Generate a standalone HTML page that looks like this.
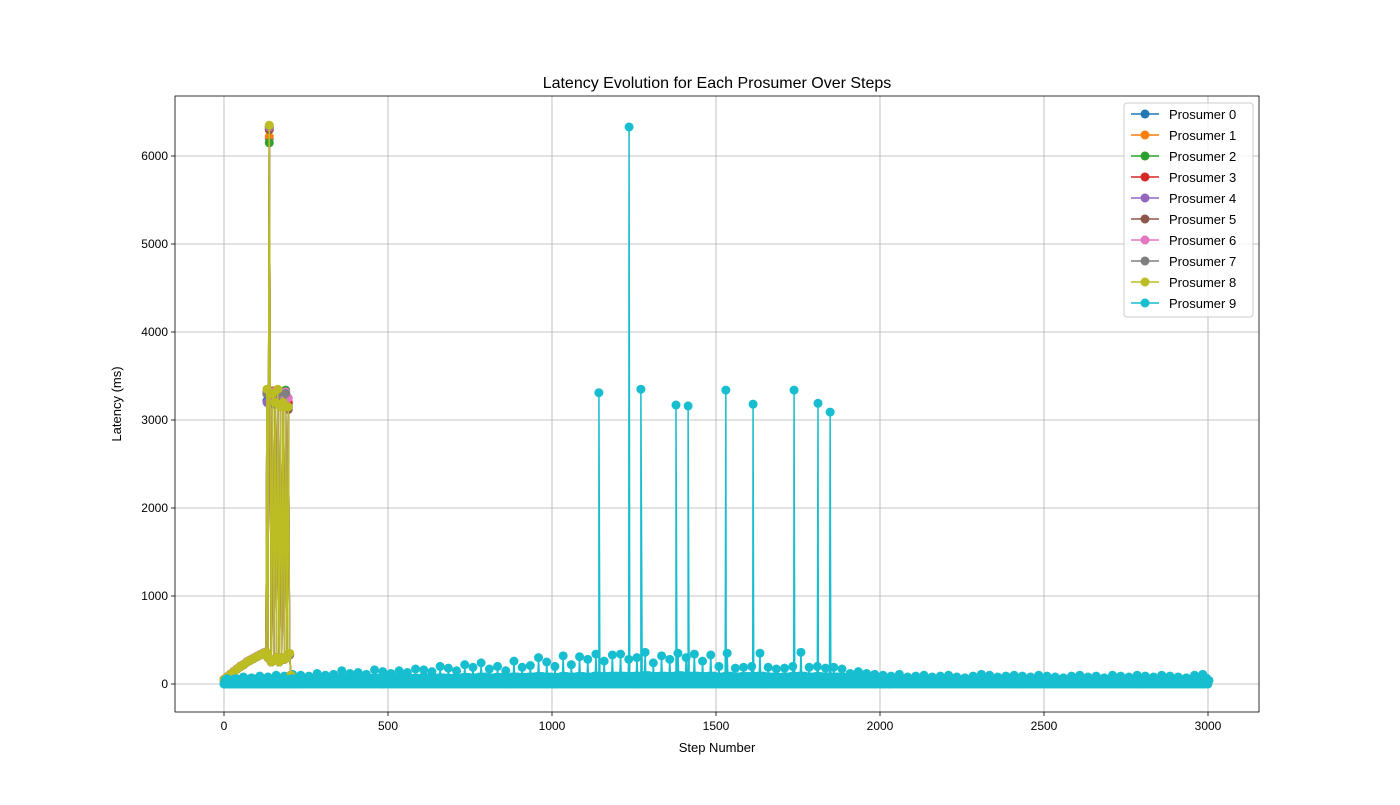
<!DOCTYPE html>
<html><head><meta charset="utf-8"><style>
body{margin:0;background:#fff;font-family:"Liberation Sans","DejaVu Sans",sans-serif}
</style></head><body>
<svg id="c" width="1400" height="800" xmlns="http://www.w3.org/2000/svg"></svg>
<script>
const xTicks=[0,500,1000,1500,2000,2500,3000];
const yTicks=[0,1000,2000,3000,4000,5000,6000];
const names=["Prosumer 0","Prosumer 1","Prosumer 2","Prosumer 3","Prosumer 4","Prosumer 5","Prosumer 6","Prosumer 7","Prosumer 8","Prosumer 9"];
const colors=["#1f77b4","#ff7f0e","#2ca02c","#d62728","#9467bd","#8c564b","#e377c2","#7f7f7f","#bcbd22","#17becf"];
const earlySteps=[0,10,20,30,40,50,60,70,80,90,100,110,120,128,131,134,138,141,144,148,152,156,160,164,168,172,176,180,184,188,192,196,200,204];
const p0=[50,80,110,140,170,200,220,250,270,290,310,330,350,360,3220,300,6200,3200,250,3300,280,3180,300,3300,250,3200,300,3250,280,3300,300,3150,330,100];
const p1=[52,82,112,142,172,202,222,252,272,292,312,332,352,362,3300,300,6220,3250,250,3320,280,3200,300,3320,250,3200,300,3220,280,3320,300,3200,340,100];
const p2=[48,78,108,138,168,198,218,248,268,288,308,328,348,358,3300,300,6150,3280,250,3300,280,3200,300,3300,250,3250,300,3200,280,3340,300,3180,340,100];
const p3=[50,80,110,140,170,200,220,250,270,290,310,330,350,360,3320,300,6300,3250,250,3330,280,3210,300,3300,250,3200,300,3230,280,3300,300,3200,330,100];
const p4=[50,80,110,140,170,200,220,250,270,290,310,330,350,360,3200,300,6320,3180,250,3300,280,3200,300,3300,250,3170,300,3200,280,3290,300,3150,330,100];
const p5=[50,80,110,140,170,200,220,250,270,290,310,330,350,360,3300,300,6300,3300,250,3300,280,3200,300,3300,250,3200,300,3200,280,3300,300,3120,330,100];
const p6=[55,85,115,145,175,205,225,255,275,295,315,335,355,365,3300,300,6330,3300,250,3320,280,3220,300,3330,250,3300,300,3270,280,3320,300,3250,340,100];
const p7=[50,80,110,140,170,200,220,250,270,290,310,330,350,360,3300,300,6340,3300,250,3300,280,3200,300,3300,250,3200,300,3200,280,3300,300,3150,330,100];
const p8=[50,80,110,140,170,200,220,250,270,290,310,330,350,360,3350,300,6350,3300,250,3300,280,3200,300,3350,250,3150,300,3200,280,3150,300,3150,350,100];
const p9Envelope=[60,70,80,70,90,80,100,90,110,100,90,120,100,110,150,120,
130,110,160,140,120,150,130,170,160,140,200,180,150,220,190,240,
170,200,150,260,190,210,300,250,200,320,220,310,280,340,260,330,
340,280,300,360,240,320,280,350,300,340,260,330,200,350,180,190,
200,350,190,170,180,200,360,190,200,180,190,170,120,140,120,110,
100,90,110,80,90,100,80,90,100,80,70,90,110,100,80,90,
100,90,80,100,90,80,70,90,100,80,90,70,100,90,80,100,
90,80,100,90,80,70,100,110,60];
const p9Floor=[40,50,45,55,50,45,60,50,55,60,50,55,60,50,65,55,
60,55,65,60,55,70,60,65,70,60,70,65,60,75,70,80,
70,75,70,80,75,80,85,80,75,85,80,85,80,90,85,90,
90,85,90,95,85,90,85,95,90,90,85,90,80,90,80,85,
85,90,80,75,80,85,90,80,85,80,80,75,65,70,65,60,
55,50,60,50,55,60,50,55,60,50,45,55,60,55,50,55,
60,55,50,60,55,50,45,55,60,50,55,45,60,55,50,60,
55,50,60,55,50,45,60,65,40];
const p9SpikeSteps=[1143,1235,1271,1378,1415,1530,1613,1738,1811,1848];
const p9SpikeValues=[3310,6330,3350,3170,3160,3340,3180,3340,3190,3090];

const L=175,R=1259,T=96,B=712;
const X=s=>224+s*(1208-224)/3000;
const Y=v=>684-v*(684-156)/6000;
const svg=document.getElementById('c');
const NS="http://www.w3.org/2000/svg";
function mk(t,a,p){const e=document.createElementNS(NS,t);for(const k in a)e.setAttribute(k,a[k]);(p||svg).appendChild(e);return e;}

const grid=mk('g',{});


xTicks.forEach(t=>{
 mk('line',{x1:X(t),x2:X(t),y1:T,y2:B,stroke:'#b0b0b0','stroke-width':0.8},grid);
 mk('line',{x1:X(t),x2:X(t),y1:B,y2:B+4,stroke:'#000','stroke-width':0.8},grid);
 const tx=mk('text',{x:X(t),y:B+18,'text-anchor':'middle','font-size':12},grid);tx.textContent=t;
 
 
});
yTicks.forEach(t=>{
 mk('line',{x1:L,x2:R,y1:Y(t),y2:Y(t),stroke:'#b0b0b0','stroke-width':0.8},grid);
 mk('line',{x1:L-4,x2:L,y1:Y(t),y2:Y(t),stroke:'#000','stroke-width':0.8},grid);
 const tx=mk('text',{x:L-7,y:Y(t)+4,'text-anchor':'end','font-size':12},grid);tx.textContent=t;
 
 
});

const clip=mk('clipPath',{id:'cp'});mk('rect',{x:L,y:T,width:R-L,height:B-T},clip);
function series(steps,vals,color,name){
 const g=mk('g',{'clip-path':'url(#cp)'});
 
 
 mk('polyline',{points:steps.map((s,i)=>X(s)+','+Y(vals[i])).join(' '),fill:'none',stroke:color,'stroke-width':1.5},g);
 steps.forEach((s,i)=>mk('circle',{cx:X(s),cy:Y(vals[i]),r:4.5,fill:color},g));
}
const early=[p0,p1,p2,p3,p4,p5,p6,p7,p8];
const s9=[],v9=[];
p9Envelope.forEach((e,i)=>{
 const f=p9Floor[i],b=i*25;
 s9.push(b,b+3,b+6,b+9,b+12,b+15,b+18,b+21);
 v9.push(0,f,0,e,0,f,0,f);
});
p9SpikeSteps.forEach((s,i)=>{s9.push(s);v9.push(p9SpikeValues[i]);});
const ord=s9.map((s,i)=>i).sort((a,b)=>s9[a]-s9[b]);
const s9s=[],v9s=[];
ord.forEach(i=>{if(s9[i]<=3005){s9s.push(s9[i]);v9s.push(v9[i]);}});
series(s9s,v9s,colors[9],'series-prosumer-9');
early.forEach((d,k)=>series(earlySteps,d,colors[k],'series-prosumer-'+k));
const bs=[],bv=[];
s9s.forEach((s,i)=>{if(s<230){bs.push(s);bv.push(Math.min(v9s[i],60));}});
series(bs,bv,colors[9],'series-prosumer-9-baseline');

const ax=mk('rect',{x:L,y:T,width:R-L,height:B-T,fill:'none',stroke:'#000','stroke-width':0.8});


let t=mk('text',{x:717,y:88,'text-anchor':'middle','font-size':16});t.textContent='Latency Evolution for Each Prosumer Over Steps';


t=mk('text',{x:717,y:752,'text-anchor':'middle','font-size':13});t.textContent='Step Number';


t=mk('text',{x:121,y:404,'text-anchor':'middle','font-size':13,transform:'rotate(-90 121 404)'});t.textContent='Latency (ms)';



const lg=mk('g',{});


mk('rect',{x:1124,y:103,width:129,height:214,rx:3,fill:'#fff','fill-opacity':0.8,stroke:'#ccc'},lg);
names.forEach((n,i)=>{
 const y=114+i*21;
 const e=mk('g',{},lg);
 
 
 mk('line',{x1:1131,x2:1159,y1:y,y2:y,stroke:colors[i],'stroke-width':1.5},e);
 mk('circle',{cx:1145,cy:y,r:4.5,fill:colors[i]},e);
 const tx=mk('text',{x:1169,y:y+5,'font-size':13},e);tx.textContent=n;
});
</script>
</body></html>
